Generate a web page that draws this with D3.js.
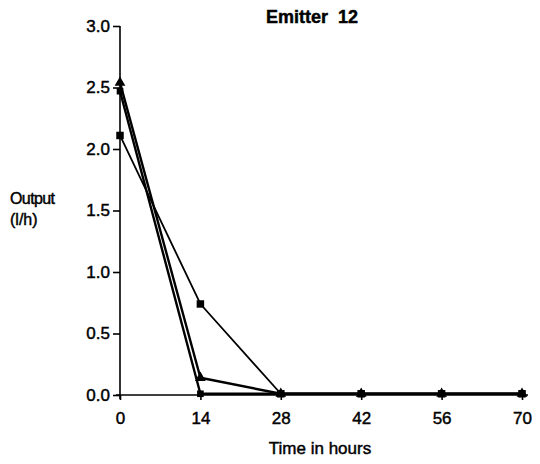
<!DOCTYPE html>
<html>
<head>
<meta charset="utf-8">
<script src="https://cdn.jsdelivr.net/npm/d3@7"></script>
<style>
  html, body { margin: 0; padding: 0; background: #fff; }
  svg text { font-family: "Liberation Sans", Arial, sans-serif; fill: #000; stroke: #000; stroke-width: 0.45px; }
</style>
</head>
<body>
<svg id="chart" width="540" height="464"></svg>
<script>
// Emitter 12: output (l/h) over time, three measurement runs
const hours = [0, 14, 28, 42, 56, 70];
const runA = [2.11, 0.74, 0.01, 0.01, 0.01, 0.01];
const runB = [2.54, 0.14, 0.01, 0.01, 0.01, 0.01];
const runC = [2.47, 0.01, 0.01, 0.01, 0.01, 0.01];
const yTicks = [0, 0.5, 1.0, 1.5, 2.0, 2.5, 3.0];
const xTicks = [0, 14, 28, 42, 56, 70];

const svg = d3.select("#chart");
const x = d3.scaleLinear().domain([0, 70]).range([120, 522]);
const y = d3.scaleLinear().domain([0, 3]).range([395, 26]);

// axes
const yAxis = svg.append("g")
  .attr("transform", `translate(${x(0)},0)`)
  .call(d3.axisLeft(y).tickValues(yTicks).tickFormat(d3.format(".1f")).tickSize(7).tickPadding(3));
yAxis.select(".domain").attr("d", `M0,${y(3)}V${y(0) + 4}`);

const xAxis = svg.append("g")
  .attr("transform", `translate(0,${y(0)})`)
  .call(d3.axisBottom(x).tickValues(xTicks).tickFormat(d3.format("d")).tickSize(5).tickPadding(17));
xAxis.select(".domain").attr("d", `M${x(0) - 4},0H${x(70) + 6}`);

svg.selectAll(".domain, .tick line").attr("stroke", "#000").attr("stroke-width", 1.6);
svg.selectAll(".tick text").style("font-size", "17px").attr("font-family", "Liberation Sans, Arial, sans-serif");
xAxis.selectAll(".tick text").attr("dy", "0.4em");

// series
const series = [
  { values: runA, width: 1.8, shape: d3.symbolSquare, size: 56 },
  { values: runB, width: 2.4, shape: d3.symbolTriangle, size: 50 },
  { values: runC, width: 2.4, shape: d3.symbolSquare, size: 44 }
];

const line = d3.line().x((d, i) => x(hours[i])).y(d => y(d));

series.forEach(s => {
  svg.append("path")
    .datum(s.values)
    .attr("d", line)
    .attr("fill", "none")
    .attr("stroke", "#000")
    .attr("stroke-width", s.width)
    .attr("stroke-linejoin", "round");
  svg.append("g").selectAll("path")
    .data(s.values)
    .join("path")
    .attr("transform", (d, i) => `translate(${x(hours[i])},${y(d)})`)
    .attr("d", d3.symbol().type(s.shape).size(s.size))
    .attr("fill", "#000");
});

// titles
svg.append("text")
  .attr("x", 312).attr("y", 23)
  .attr("text-anchor", "middle")
  .style("font-size", "18px").style("font-weight", "bold")
  .style("white-space", "pre")
  .text("Emitter\u00a0\u00a012");

svg.append("text")
  .attr("x", 320).attr("y", 454)
  .attr("text-anchor", "middle")
  .style("font-size", "17px")
  .text("Time in hours");

svg.append("text")
  .attr("x", 10).attr("y", 204)
  .style("font-size", "16px").style("letter-spacing", "-0.6px")
  .text("Output");
svg.append("text")
  .attr("x", 10).attr("y", 225)
  .style("font-size", "16px")
  .text("(l/h)");
</script>
</body>
</html>
